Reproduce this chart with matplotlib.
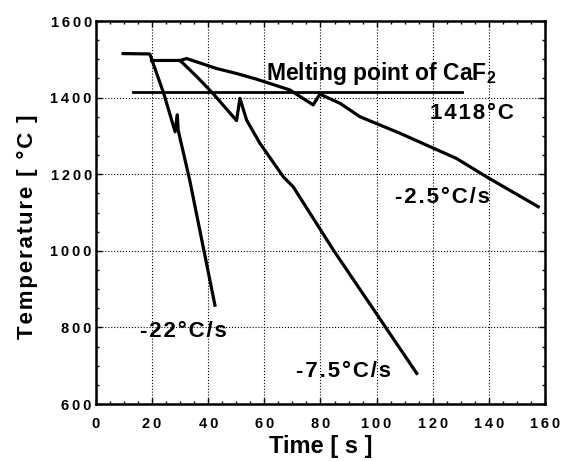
import numpy as np
import matplotlib
matplotlib.use('Agg')
import matplotlib.pyplot as plt
from matplotlib.ticker import MultipleLocator, FuncFormatter

plt.rcParams['font.family'] = ['Liberation Sans', 'DejaVu Sans']
plt.rcParams['font.weight'] = 'bold'
plt.rcParams['mathtext.fontset'] = 'custom'
plt.rcParams['mathtext.rm'] = 'Liberation Sans'
plt.rcParams['mathtext.bf'] = 'Liberation Sans:bold'

# Cooling curves: time [s], temperature [C]
t_22 = [9.7, 19.2, 24.2, 28.2, 29.0, 29.3, 33.4, 42.4]
T_22 = [1515, 1514, 1410, 1311, 1355, 1315, 1185, 858]

t_75 = [19.8, 30.0, 35.9, 41.8, 50.1, 51.3, 53.7, 58.4, 66.8, 70.3, 84.6, 114.3]
T_75 = [1497, 1497, 1455, 1410, 1340, 1398, 1341, 1281, 1193, 1167, 1002, 680]

t_25 = [30.0, 32.3, 43.0, 50.1, 57.3, 69.1, 77.4, 79.8, 87.0, 94.1, 108.3, 128.5, 139.2, 157.6]
T_25 = [1497, 1502, 1476, 1463, 1448, 1420, 1381, 1409, 1385, 1350, 1307, 1241, 1193, 1115]

# Melting point of CaF2
t_melt = [13.3, 130.3]
T_melt = [1415, 1415]

x_ticks = [0, 20, 40, 60, 80, 100, 120, 140, 160]
y_ticks = [600, 800, 1000, 1200, 1400, 1600]


def spread(s, sp='\u200a'):
    # letter-spaced text like the original figure
    return sp.join(s)


def spaced(v, pos):
    return spread(str(int(v)), '\u2009')


fig = plt.figure(figsize=(5.71, 4.61), dpi=100)
ax = fig.add_axes([0.168, 0.1236, 0.7865, 0.8308])

# Curves
ax.plot(t_22, T_22, 'k-', lw=2.3)
ax.plot(t_75, T_75, 'k-', lw=2.3)
ax.plot(t_25, T_25, 'k-', lw=2.3)
ax.plot(t_melt, T_melt, 'k-', lw=2.0)

# Labels on curves
ax.text(60.6, 1446, 'Melting point of CaF$_\\mathbf{2}$', fontsize=16.5, fontweight='bold')
ax.text(119.0, 1344, spread('1418\u00b0C'), fontsize=16)
ax.text(106.6, 1125, spread('-2.5\u00b0C/s'), fontsize=16)
ax.text(15.7, 775, spread('-22\u00b0C/s'), fontsize=16)
ax.text(71.3, 670, spread('-7.5\u00b0C/s'), fontsize=16)

# Axes
ax.set_xlim(0, 160)
ax.set_ylim(600, 1600)
ax.set_xticks(x_ticks)
ax.set_yticks(y_ticks)
ax.xaxis.set_minor_locator(MultipleLocator(5))
ax.yaxis.set_minor_locator(MultipleLocator(50))
ax.xaxis.set_major_formatter(FuncFormatter(spaced))
ax.yaxis.set_major_formatter(FuncFormatter(spaced))
ax.tick_params(which='both', direction='in', top=True, right=True, width=1)
ax.tick_params(which='major', length=4)
ax.tick_params(which='minor', length=2.5)
ax.tick_params(axis='x', labelsize=10.5, pad=9)
ax.tick_params(axis='y', labelsize=10.5, pad=3)
for s in ax.spines.values():
    s.set_linewidth(1.8)

ax.grid(True, which='major', color='k', ls=':', lw=0.8)

ax.set_xlabel('Time [ s ]', fontsize=17, fontweight='bold', labelpad=3)
ax.set_ylabel(spread('Temperature [ \u00b0C ]'), fontsize=16, fontweight='bold')
ax.yaxis.set_label_coords(-0.128, 0.462)

fig.savefig('out.png', dpi=100)
